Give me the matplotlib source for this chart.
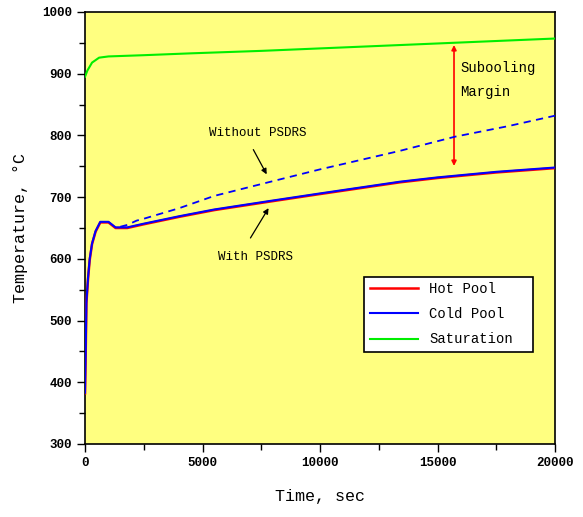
import matplotlib
matplotlib.use("Agg")
import matplotlib.pyplot as plt
from matplotlib.ticker import MultipleLocator

# ---- data ----
t_sat = [0, 100, 300, 600, 1000, 2500, 4500, 7500, 10000, 12500, 15000, 17500, 20000]
T_sat = [895, 905, 918, 926, 928, 930, 933, 937, 941, 945, 949, 953, 957]

t_pool = [0, 30, 60, 130, 200, 300, 450, 650, 1000, 1300, 1800, 2500, 4000, 5500,
          7900, 10000, 13400, 15000, 17500, 20000]
T_cold = [383, 450, 530, 570, 600, 625, 645, 660, 660, 651, 651, 657, 669, 680,
          694, 706, 725, 732, 741, 748]
T_hot = [382, 448, 528, 568, 598, 624, 644, 659, 659, 650, 650, 656, 668, 679,
         693, 705, 724, 731, 740, 747]

t_nops = [1500, 1800, 2200, 2500, 4000, 5500, 7900, 10000, 13400, 15750, 18000, 20000]
T_nops = [652, 655, 662, 665, 682, 702, 725, 745, 775, 798, 815, 832]

xticks = [0, 5000, 10000, 15000, 20000]
yticks = [300, 400, 500, 600, 700, 800, 900, 1000]

mono = "Liberation Mono"

fig = plt.figure(figsize=(5.83, 5.17), dpi=100)
fig.patch.set_facecolor("white")
ax = fig.add_axes([0.1458, 0.1412, 0.8062, 0.8356])
ax.set_facecolor("#FFFF80")

ax.plot(t_sat, T_sat, color="#00EE00", lw=1.5, label="Saturation", zorder=3)
ax.plot(t_hot if False else t_pool, T_hot, color="#FF0000", lw=1.8, label="Hot Pool", zorder=3)
ax.plot(t_pool, T_cold, color="#0000FF", lw=1.5, label="Cold Pool", zorder=4)
ax.plot(t_nops, T_nops, color="#0000FF", lw=1.3, ls=(0, (4, 3)), zorder=4)

ax.set_xlim(0, 20000)
ax.set_ylim(300, 1000)
ax.set_xticks(xticks)
ax.set_yticks(yticks)
ax.xaxis.set_minor_locator(MultipleLocator(2500))
ax.yaxis.set_minor_locator(MultipleLocator(50))
ax.tick_params(which="major", direction="out", length=6, width=1, top=False, right=False)
ax.tick_params(which="minor", direction="out", length=4, width=1, top=False, right=False)
for lab in ax.get_xticklabels() + ax.get_yticklabels():
    lab.set_family(mono)
    lab.set_fontsize(9)
    lab.set_fontweight("bold")
for s in ax.spines.values():
    s.set_linewidth(1.2)

ax.set_xlabel("Time, sec", family=mono, fontsize=12, labelpad=14)
ax.set_ylabel("Temperature, \u00b0C", family=mono, fontsize=12, labelpad=10)

# annotations
ax.annotate("", xy=(7787, 733), xytext=(7106, 781),
            arrowprops=dict(arrowstyle="-|>", color="black", lw=0.9, mutation_scale=8))
ax.text(7362, 804, "Without PSDRS", family=mono, fontsize=9, ha="center", va="center")
ax.annotate("", xy=(7872, 686), xytext=(6979, 630),
            arrowprops=dict(arrowstyle="-|>", color="black", lw=0.9, mutation_scale=8))
ax.text(7234, 603, "With PSDRS", family=mono, fontsize=9, ha="center", va="center")
ax.annotate("", xy=(15702, 951), xytext=(15702, 746),
            arrowprops=dict(arrowstyle="<|-|>", color="#FF0000", lw=1.2, mutation_scale=7))
ax.text(15957, 909, "Subooling", family=mono, fontsize=10, ha="left", va="center")
ax.text(15957, 870, "Margin", family=mono, fontsize=10, ha="left", va="center")

handles, labels = ax.get_legend_handles_labels()
order = [labels.index("Hot Pool"), labels.index("Cold Pool"), labels.index("Saturation")]
leg = ax.legend([handles[i] for i in order], [labels[i] for i in order],
                loc="lower left", bbox_to_anchor=(0.594, 0.213, 0.359, 0.206), mode="expand",
                prop={"family": mono, "size": 10}, fancybox=False, framealpha=1,
                edgecolor="black", handlelength=3.5, borderaxespad=0, labelspacing=0.8)
leg.get_frame().set_linewidth(1.2)

fig.savefig("out.png", dpi=100)
